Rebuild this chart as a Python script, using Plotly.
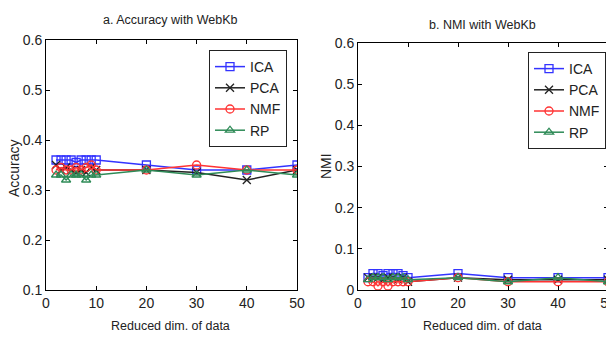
import plotly.graph_objects as go

dims = [2, 3, 4, 5, 6, 7, 8, 9, 10, 20, 30, 40, 50]
methods = ["ICA", "PCA", "NMF", "RP"]

acc_ica = [0.36, 0.36, 0.36, 0.36, 0.355, 0.36, 0.36, 0.36, 0.36, 0.35, 0.34, 0.34, 0.35]
acc_pca = [0.35, 0.34, 0.345, 0.34, 0.335, 0.34, 0.335, 0.345, 0.34, 0.34, 0.335, 0.32, 0.34]
acc_nmf = [0.34, 0.345, 0.34, 0.34, 0.345, 0.34, 0.345, 0.35, 0.34, 0.34, 0.35, 0.34, 0.34]
acc_rp = [0.33, 0.33, 0.32, 0.33, 0.33, 0.33, 0.32, 0.33, 0.33, 0.34, 0.33, 0.34, 0.33]

nmi_ica = [0.03, 0.04, 0.04, 0.035, 0.04, 0.04, 0.04, 0.035, 0.03, 0.04, 0.03, 0.03, 0.03]
nmi_pca = [0.03, 0.03, 0.03, 0.025, 0.03, 0.03, 0.025, 0.03, 0.02, 0.03, 0.025, 0.025, 0.025]
nmi_nmf = [0.02, 0.02, 0.01, 0.02, 0.01, 0.02, 0.02, 0.02, 0.02, 0.03, 0.02, 0.02, 0.02]
nmi_rp = [0.025, 0.03, 0.03, 0.03, 0.025, 0.03, 0.03, 0.03, 0.025, 0.03, 0.02, 0.03, 0.02]

colors = ["#3333ff", "#222222", "#ff3333", "#2e8b57"]
symbols = ["square-open", "x-thin-open", "circle-open", "triangle-up-open"]

FONT = "Liberation Sans Narrow, Arial Narrow, Liberation Sans, Arial"
W, H, OFF = 614, 337, 8


def px(x):
    return (x - OFF) / W


def py(y):
    return 1 - (y - OFF) / H


fig = go.Figure()

for i, (name, ys) in enumerate(zip(methods, [acc_ica, acc_pca, acc_nmf, acc_rp])):
    fig.add_trace(go.Scatter(
        x=dims, y=ys, name=name, mode="lines+markers",
        line=dict(color=colors[i], width=1.5),
        marker=dict(symbol=symbols[i], size=8, color=colors[i],
                    line=dict(width=1.3, color=colors[i])),
        xaxis="x", yaxis="y", legend="legend"))

for i, (name, ys) in enumerate(zip(methods, [nmi_ica, nmi_pca, nmi_nmf, nmi_rp])):
    fig.add_trace(go.Scatter(
        x=dims, y=ys, name=name, mode="lines+markers",
        line=dict(color=colors[i], width=1.5),
        marker=dict(symbol=symbols[i], size=8, color=colors[i],
                    line=dict(width=1.3, color=colors[i])),
        xaxis="x2", yaxis="y2", legend="legend2"))

axis_common = dict(showline=True, linecolor="black", linewidth=1, mirror="ticks",
                   ticks="inside", ticklen=4, tickcolor="black", showgrid=False,
                   zeroline=False, automargin=False,
                   tickfont=dict(family=FONT, size=14, color="#222"))


def ann(text, x, y, size, angle=0):
    return dict(text=text, x=px(x), y=py(y), xref="paper", yref="paper",
                xanchor="center", yanchor="middle", showarrow=False, textangle=angle,
                font=dict(family=FONT, size=size, color="#222"))


fig.update_layout(
    width=W, height=H,
    margin=dict(l=0, r=0, t=0, b=0, autoexpand=False),
    paper_bgcolor="white", plot_bgcolor="white",
    font=dict(family=FONT, color="#222"),
    xaxis=dict(domain=[px(46), px(297)], range=[0, 50], tickvals=[0, 10, 20, 30, 40, 50],
               anchor="y", **axis_common),
    yaxis=dict(domain=[py(290), py(40)], range=[0.1, 0.6],
               tickvals=[0.1, 0.2, 0.3, 0.4, 0.5, 0.6], tickformat=".1f",
               anchor="x", **axis_common),
    xaxis2=dict(domain=[px(358), px(608)], range=[0, 50], tickvals=[0, 10, 20, 30, 40, 50],
                anchor="y2", **axis_common),
    yaxis2=dict(domain=[py(290), py(43)], range=[0, 0.6],
                tickvals=[0, 0.1, 0.2, 0.3, 0.4, 0.5, 0.6],
                ticktext=["0", "0.1", "0.2", "0.3", "0.4", "0.5", "0.6"],
                anchor="x2", **axis_common),
    legend=dict(x=px(209), y=py(50), xanchor="left", yanchor="top",
                bordercolor="#222", borderwidth=1, bgcolor="white",
                font=dict(family=FONT, size=14, color="#222"),
                tracegroupgap=0, itemwidth=30),
    legend2=dict(x=px(528), y=py(52), xanchor="left", yanchor="top",
                 bordercolor="#222", borderwidth=1, bgcolor="white",
                 font=dict(family=FONT, size=14, color="#222"),
                 tracegroupgap=0, itemwidth=30),
    annotations=[
        ann("a. Accuracy with WebKb", 170, 20, 12.5),
        ann("b. NMI with WebKb", 482, 25, 12.5),
        ann("Reduced dim. of data", 170, 326, 12.5),
        ann("Reduced dim. of data", 482, 326, 12.5),
        ann("Accuracy", 14, 168, 14, -90),
        ann("NMI", 326, 166, 14, -90),
    ],
)

fig.write_html("out.html")
